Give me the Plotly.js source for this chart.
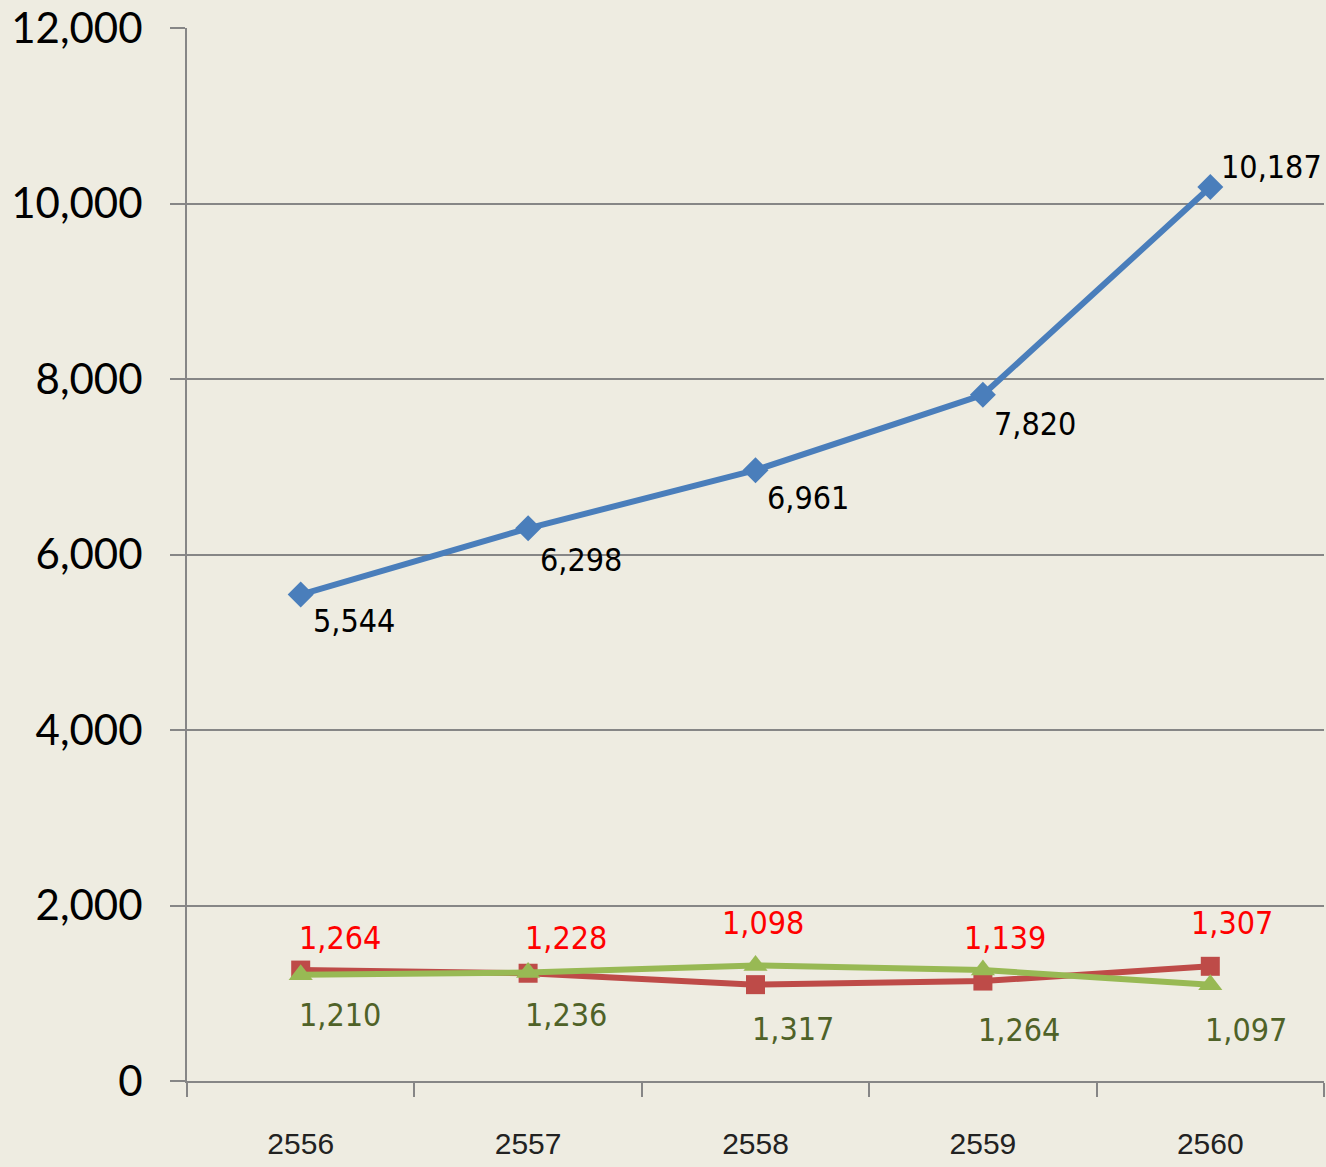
<!DOCTYPE html>
<html>
<head>
<meta charset="utf-8">
<script src="https://cdn.plot.ly/plotly-3.0.1.min.js"></script>
<style>html,body{margin:0;padding:0;background:#EEECE1;}</style>
</head>
<body>
<div id="chart" style="width:1326px;height:1167px;"></div>
<script>
var years = ['2556', '2557', '2558', '2559', '2560'];
var seriesBlue = [5544, 6298, 6961, 7820, 10187];
var seriesRed = [1264, 1228, 1098, 1139, 1307];
var seriesGreen = [1210, 1236, 1317, 1264, 1097];
var yTickVals = [0, 2000, 4000, 6000, 8000, 10000, 12000];
var yTickText = ['0', '2,000', '4,000', '6,000', '8,000', '10,000', '12,000'];

// label placement (pixel offsets from each point), styling only
var blueShift = [[10,-26],[10,-32],[9,-28],[9,-29],[9,20]];
var redShift = [[-4,32],[-5,35],[-36,62],[-21,43],[-21,43]];
var greenShift = [[-4,-40],[-5,-42],[-6,-64],[-7,-60],[-7,-45]];

function fmt(v){ return v.toLocaleString('en-US'); }

var traces = [
  {x: years, y: seriesBlue, type:'scatter', mode:'lines+markers',
   line:{color:'#4A7EBB', width:6}, marker:{symbol:'diamond', size:20, color:'#4A7EBB'}},
  {x: years, y: seriesRed, type:'scatter', mode:'lines+markers',
   line:{color:'#BE4B48', width:6}, marker:{symbol:'square', size:19, color:'#BE4B48'}},
  {x: years, y: seriesGreen, type:'scatter', mode:'lines+markers',
   line:{color:'#98B954', width:6}, marker:{symbol:'triangle-up', size:21, color:'#98B954'}}
];

var labelFont = 'DejaVu Sans Condensed, DejaVu Sans, sans-serif';
var annotations = [];
function addLabels(vals, shifts, color){
  vals.forEach(function(v, i){
    annotations.push({x: i, y: v, xref:'x', yref:'y', text: fmt(v), showarrow:false,
      xanchor:'left', yanchor:'middle', xshift: shifts[i][0], yshift: shifts[i][1],
      font:{family:labelFont, size:32, color:color}});
  });
}
addLabels(seriesBlue, blueShift, '#000000');
addLabels(seriesRed, redShift, '#FF0000');
addLabels(seriesGreen, greenShift, '#4F6228');

var layout = {
  width:1326, height:1167,
  margin:{l:187, r:2, t:28, b:86},
  paper_bgcolor:'#EEECE1', plot_bgcolor:'#EEECE1',
  showlegend:false,
  xaxis:{type:'category', range:[-0.5, 4.5], tickson:'boundaries', ticks:'outside', ticklen:14,
    tickwidth:2, tickcolor:'#868686', showline:true, linecolor:'#868686', linewidth:2,
    showgrid:false, zeroline:false, ticklabelstandoff:35,
    tickfont:{family:'Liberation Sans, Arial, sans-serif', size:30, color:'#222222'}},
  yaxis:{range:[0, 12000], tickvals:yTickVals, ticktext:yTickText, ticks:'outside', ticklen:15,
    tickwidth:2, tickcolor:'#868686', showline:true, linecolor:'#868686', linewidth:2,
    showgrid:true, gridcolor:'#868686', gridwidth:2, zeroline:false, ticklabelstandoff:19,
    tickfont:{family:'Lato, sans-serif', size:42, color:'#000000'}},
  annotations: annotations
};
Plotly.newPlot('chart', traces, layout, {staticPlot:true});
</script>
</body>
</html>
